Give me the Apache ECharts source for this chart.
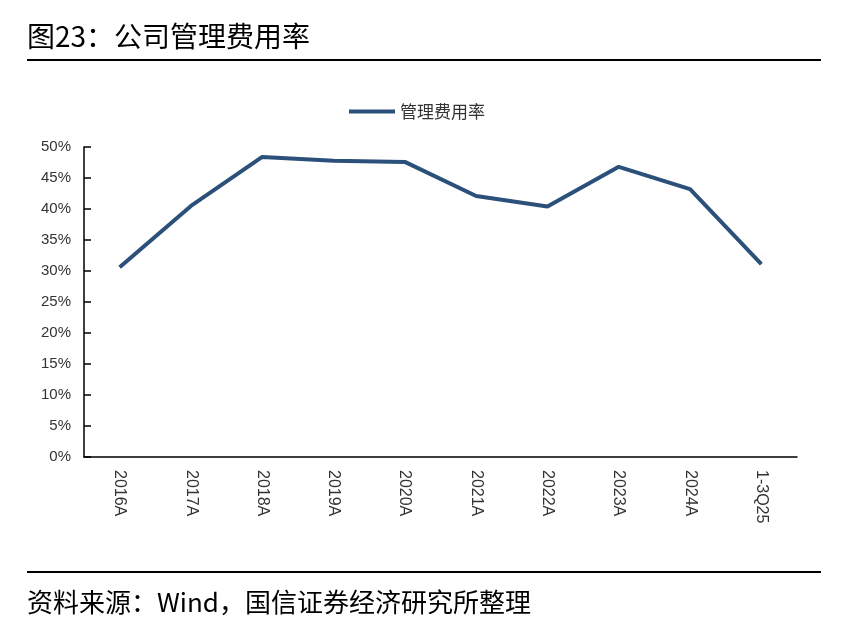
<!DOCTYPE html>
<html><head><meta charset="utf-8">
<script src="https://cdn.jsdelivr.net/npm/echarts@6/dist/echarts.min.js"></script>
<style>html,body{margin:0;padding:0;background:#fff}#c{width:844px;height:637px}</style>
</head><body><div id="c"></div>
<script>
var categories = ['2016A','2017A','2018A','2019A','2020A','2021A','2022A','2023A','2024A','1-3Q25'];
var seriesName = '管理费用率';
var values = [30.6, 40.5, 48.4, 47.8, 47.6, 42.1, 40.4, 46.8, 43.2, 31.1];
var titleText = '图23：公司管理费用率';
var sourceText = '资料来源：Wind，国信证券经济研究所整理';

var chart = echarts.init(document.getElementById('c'));
chart.setOption({
  backgroundColor: '#fff',
  animation: false,
  graphic: [
    {type:'text', left:27, top:22, style:{text:titleText, font:'28px "Noto Sans CJK SC"', fill:'#000'}},
    {type:'rect', shape:{x:27, y:59, width:794, height:2}, style:{fill:'#000'}},
    {type:'rect', shape:{x:27, y:571, width:794, height:2}, style:{fill:'#000'}},
    {type:'text', left:27, top:589, style:{text:sourceText, font:'26px "Noto Sans CJK SC"', fill:'#000'}}
  ],
  legend: {
    top: 98, left: 344,
    itemWidth: 46, itemHeight: 4,
    itemGap: 8,
    textStyle: {fontSize: 17, color: '#333', fontFamily: 'Noto Sans CJK SC'},
    data: [{name: seriesName, icon: 'rect'}]
  },
  grid: {left: 84, right: 47, top: 147, bottom: 180},
  xAxis: {
    type: 'category', data: categories, boundaryGap: true,
    axisLine: {lineStyle: {color: '#000', width: 1.5}},
    axisTick: {inside: true, length: 7, lineStyle: {color: '#000', width: 1.5}},
    axisLabel: {rotate: -90, fontSize: 16, color: '#333', fontFamily: 'Liberation Sans', margin: 13}
  },
  yAxis: {
    type: 'value', min: 0, max: 50, interval: 5,
    splitLine: {show: false},
    axisLine: {show: true, lineStyle: {color: '#000', width: 1.5}},
    axisTick: {show: true, inside: true, length: 7, lineStyle: {color: '#000', width: 1.5}},
    axisLabel: {formatter: '{value}%', fontSize: 15, color: '#333', fontFamily: 'Liberation Sans', margin: 13}
  },
  series: [{
    name: seriesName, type: 'line', data: values,
    symbol: 'none',
    lineStyle: {color: '#2B5079', width: 4},
    itemStyle: {color: '#2B5079'}
  }]
});
</script></body></html>
